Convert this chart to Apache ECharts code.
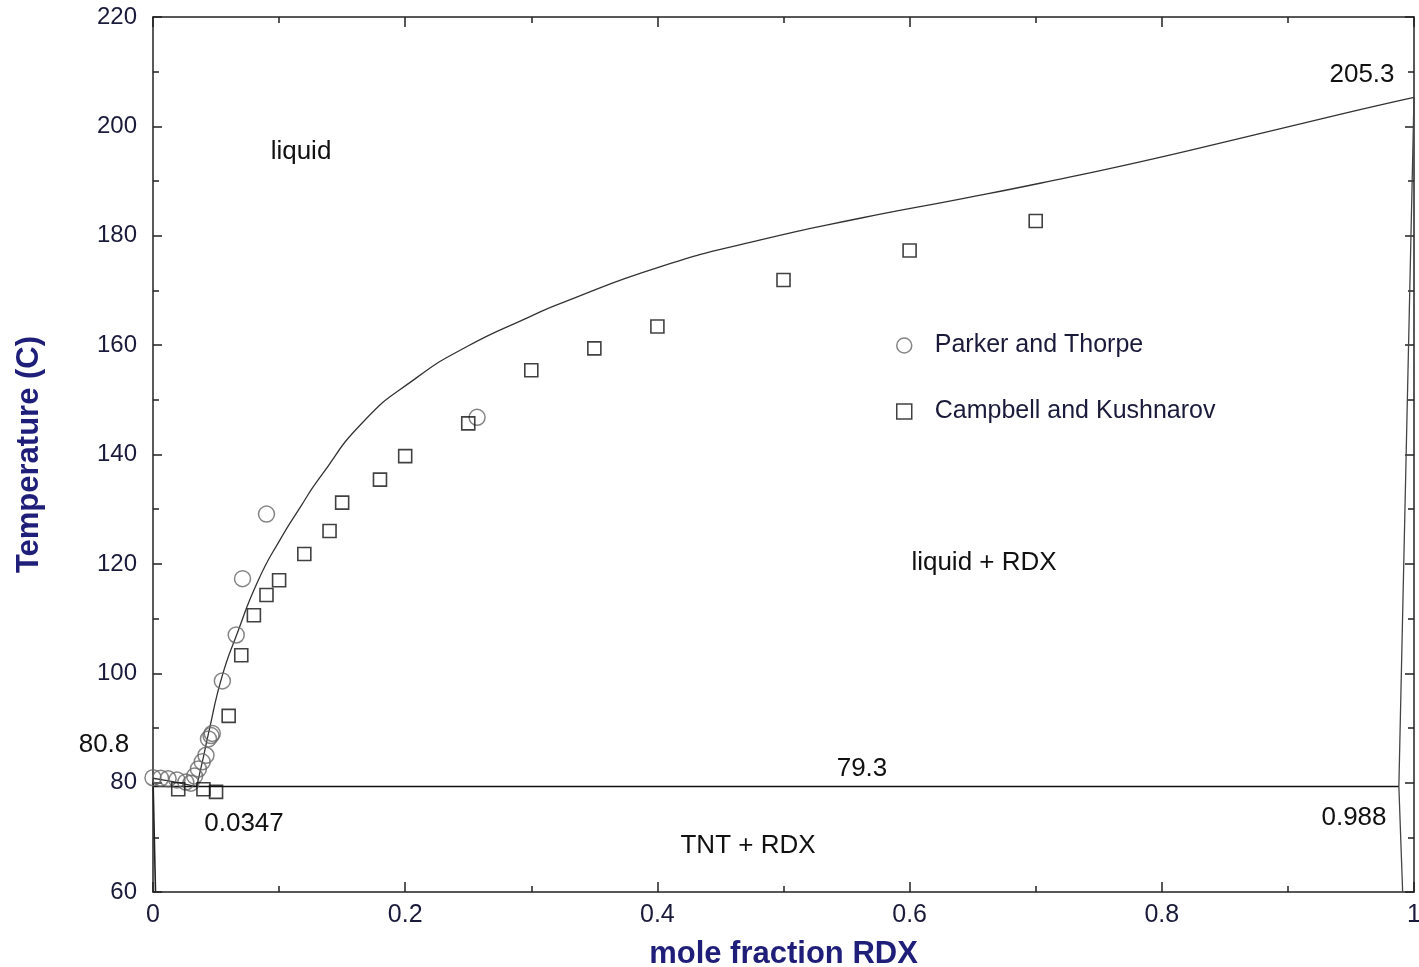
<!DOCTYPE html>
<html>
<head>
<meta charset="utf-8">
<script src="https://cdn.jsdelivr.net/npm/echarts@6/dist/echarts.min.js"></script>
<style>
html,body{margin:0;padding:0;background:#fff;}
#chart{width:1419px;height:967px;}
</style>
</head>
<body>
<div id="chart"></div>
<script>
// ---- Data ----
const parkerX = [0, 0.006, 0.012, 0.019, 0.026, 0.030, 0.033, 0.036, 0.039, 0.042, 0.044, 0.046, 0.047, 0.055, 0.066, 0.071, 0.090, 0.257];
const parkerT = [80.9, 80.8, 80.7, 80.5, 80.1, 79.9, 81.2, 82.5, 83.8, 85.0, 88.0, 88.6, 89.0, 98.6, 107.0, 117.3, 129.1, 146.8];

const campbellX = [0.02, 0.04, 0.05, 0.06, 0.07, 0.08, 0.09, 0.10, 0.12, 0.14, 0.15, 0.18, 0.20, 0.25, 0.30, 0.35, 0.40, 0.50, 0.60, 0.70];
const campbellT = [78.8, 78.8, 78.3, 92.2, 103.3, 110.6, 114.3, 117.0, 121.8, 126.0, 131.2, 135.4, 139.7, 145.7, 155.4, 159.4, 163.4, 171.9, 177.3, 182.7];

const liqTntX = [0, 0.01, 0.02, 0.03, 0.0347];
const liqTntT = [80.8, 80.4, 80.0, 79.5, 79.3];

const liqRdxX = [0.0347, 0.040, 0.044, 0.0545, 0.0663, 0.0835, 0.1007, 0.1166, 0.1324, 0.1668, 0.2064, 0.2487, 0.299, 0.3228, 0.402, 0.481, 0.5607, 0.64, 0.7034, 0.7827, 0.862, 0.9413, 1.0];
const liqRdxT = [79.3, 84.7, 89.0, 99.2, 107.0, 117.0, 124.4, 130.3, 135.8, 146.0, 153.6, 159.7, 165.2, 167.6, 174.3, 179.2, 183.2, 186.7, 189.6, 193.5, 197.8, 202.2, 205.3];

const eutecticX = [0, 0.988];
const eutecticT = [79.3, 79.3];

const solidTntX = [0, 0.002];
const solidTntT = [80.8, 60];

const solidRdxX = [1, 0.988, 0.991];
const solidRdxT = [205.3, 79.3, 60];

const xTicks = ['0', '0.2', '0.4', '0.6', '0.8', '1'];
const yTicks = ['60', '80', '100', '120', '140', '160', '180', '200', '220'];

const seriesNames = ['Parker and Thorpe', 'Campbell and Kushnarov'];

const notes = [
  {text: 'liquid', x: 301, y: 152},
  {text: 'liquid + RDX', x: 984, y: 563},
  {text: 'TNT + RDX', x: 748, y: 846},
  {text: '205.3', x: 1362, y: 75},
  {text: '80.8', x: 104, y: 745},
  {text: '79.3', x: 862, y: 769},
  {text: '0.0347', x: 244, y: 824},
  {text: '0.988', x: 1354, y: 818}
];

// ---- Build ----
const zip = (a, b) => a.map((v, i) => [v, b[i]]);
const FONT = '"Liberation Sans", Arial, sans-serif';
const TXT = '#1a1a3a';
const AXC = '#222';

function xAx(pos, labels) {
  return {
    type: 'value', position: pos, min: 0, max: 1, interval: 0.2,
    axisLine: {show: true, onZero: false, lineStyle: {color: AXC, width: 1.5}},
    axisTick: {show: true, inside: true, length: 10, lineStyle: {color: AXC, width: 1.5}},
    minorTick: {show: true, splitNumber: 2, length: 6, lineStyle: {color: AXC, width: 1.5}},
    splitLine: {show: false},
    axisLabel: {show: labels, margin: 11, fontSize: 25, fontFamily: FONT, color: TXT,
      formatter: v => xTicks[Math.round(v / 0.2)]},
    name: labels ? 'mole fraction RDX' : '',
    nameLocation: 'middle', nameGap: 47,
    nameTextStyle: {fontSize: 31, fontWeight: 'bold', fontFamily: FONT, color: '#1f1f7a'}
  };
}
function yAx(pos, labels) {
  return {
    type: 'value', position: pos, min: 60, max: 220, interval: 20,
    axisLine: {show: true, onZero: false, lineStyle: {color: AXC, width: 1.5}},
    axisTick: {show: true, inside: true, length: 9, lineStyle: {color: AXC, width: 1.5}},
    minorTick: {show: true, splitNumber: 2, length: 6, lineStyle: {color: AXC, width: 1.5}},
    splitLine: {show: false},
    axisLabel: {show: labels, margin: 16, fontSize: 24, fontFamily: FONT, color: TXT,
      formatter: v => yTicks[Math.round((v - 60) / 20)]},
    name: labels ? 'Temperature (C)' : '',
    nameLocation: 'middle', nameGap: 108, nameRotate: 90,
    nameTextStyle: {fontSize: 31, fontWeight: 'bold', fontFamily: FONT, color: '#1f1f7a'}
  };
}

const lineSeries = (data, smooth, color, width) => ({
  type: 'line', data: data, showSymbol: false, symbol: 'none', smooth: smooth,
  lineStyle: {color: color, width: width}, silent: true, animation: false,
  xAxisIndex: 0, yAxisIndex: 0, z: 2
});

const chart = echarts.init(document.getElementById('chart'), null, {renderer: 'canvas'});
chart.setOption({
  animation: false,
  backgroundColor: '#fff',
  grid: {left: 153, top: 17, right: 5, bottom: 75, containLabel: false, outerBoundsMode: 'none'},
  xAxis: [xAx('bottom', true), xAx('top', false)],
  yAxis: [yAx('left', true), yAx('right', false)],
  legend: {
    orient: 'vertical', left: 891, top: 328, itemGap: 41,
    itemWidth: 15, itemHeight: 15,
    textStyle: {fontSize: 25, fontFamily: FONT, color: TXT, padding: [0, 0, 0, 18]},
    data: [
      {name: seriesNames[0], icon: 'circle', itemStyle: {color: '#fff', borderColor: '#666', borderWidth: 1.5}},
      {name: seriesNames[1], icon: 'rect', itemStyle: {color: '#fff', borderColor: '#111', borderWidth: 1.5}}
    ]
  },
  series: [
    lineSeries(zip(liqTntX, liqTntT), false, '#333', 1.3),
    lineSeries(zip(liqRdxX, liqRdxT), 0.55, '#333', 1.3),
    lineSeries(zip(eutecticX, eutecticT), false, '#111', 1.4),
    lineSeries(zip(solidTntX, solidTntT), false, '#222', 1.6),
    lineSeries(zip(solidRdxX, solidRdxT), false, '#444', 1.3),
    {
      name: seriesNames[0], type: 'scatter', data: zip(parkerX, parkerT),
      symbol: 'circle', symbolSize: 16,
      itemStyle: {color: 'rgba(255,255,255,0)', borderColor: '#666', borderWidth: 1.5},
      z: 4
    },
    {
      name: seriesNames[1], type: 'scatter', data: zip(campbellX, campbellT),
      symbol: 'rect', symbolSize: 13,
      itemStyle: {color: 'rgba(255,255,255,0)', borderColor: '#111', borderWidth: 1.6},
      z: 4
    }
  ],
  graphic: notes.map(n => ({
    type: 'text', x: n.x, y: n.y, silent: true,
    style: {text: n.text, fontSize: 26, fontFamily: FONT, fill: '#111', align: 'center', verticalAlign: 'middle'}
  }))
});
</script>
</body>
</html>
